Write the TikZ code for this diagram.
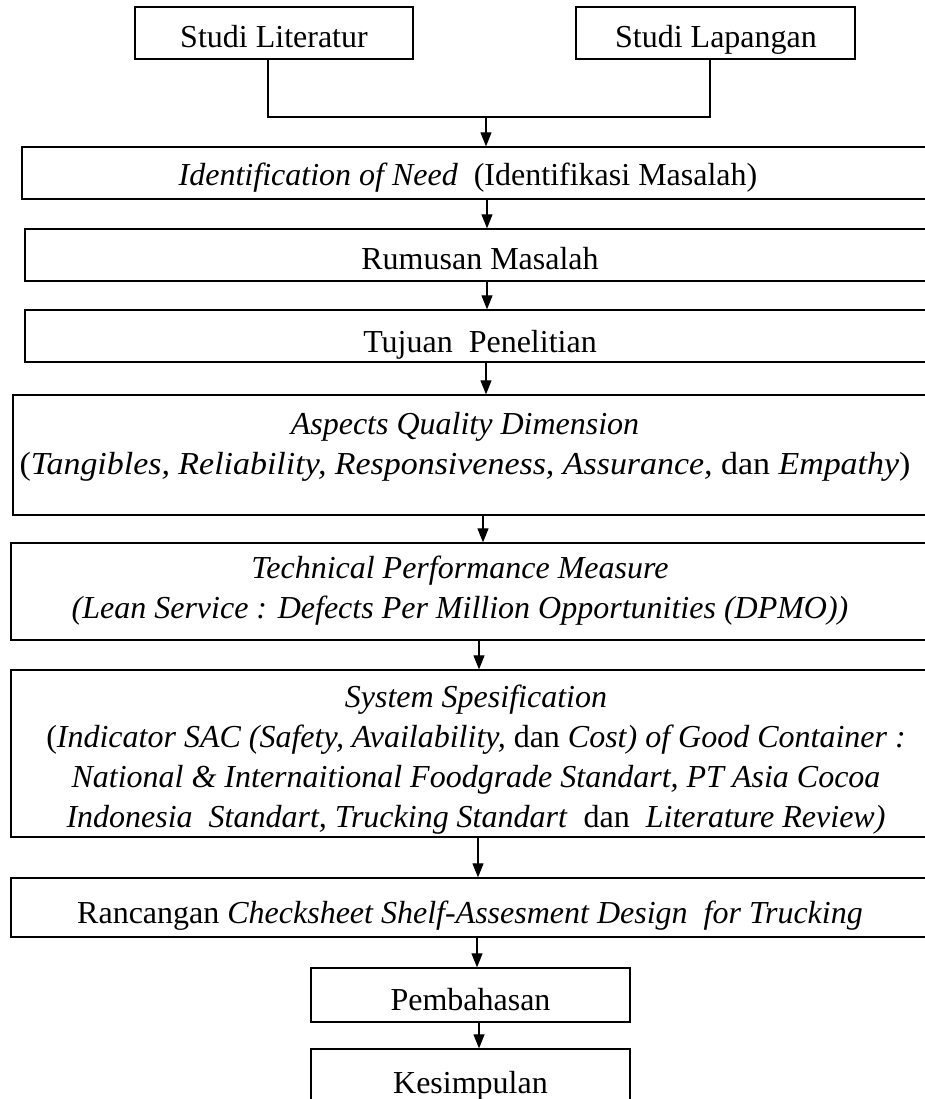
\documentclass[tikz,border=0pt]{standalone}
\usepackage{fontspec}
\setmainfont{Liberation Serif}
\usetikzlibrary{arrows.meta}
\newcommand\fbig{\fontsize{32}{40}\selectfont}
\tikzset{
  box/.style={draw, line width=1.3pt, rectangle, inner sep=0pt},
  txt/.style={align=center, font=\fbig, inner sep=0pt},
  one/.style={txt, text height=23pt, text depth=0pt},
  link/.style={line width=1.1pt},
  arr/.style={line width=1.1pt, -{Triangle[length=14pt,width=11pt]}}
}
\begin{document}
\begin{tikzpicture}[x=1pt,y=-1pt]
\useasboundingbox (0,0) rectangle (925,1099);
\clip (0,0) rectangle (925,1099);
% boxes
\node[box, minimum width=278pt, minimum height=52pt] (lit) at (274,33) {};
\node[box, minimum width=279pt, minimum height=52pt] (lap) at (715.5,33) {};
\node[box, minimum width=918pt, minimum height=52pt] (ident) at (481,173) {};
\node[box, minimum width=915pt, minimum height=52pt] (rum) at (482.5,255) {};
\node[box, minimum width=915pt, minimum height=52pt] (tuj) at (482.5,336) {};
\node[box, minimum width=927pt, minimum height=120pt] (asp) at (476.5,455) {};
\node[box, minimum width=929pt, minimum height=97pt] (tech) at (475.5,591.5) {};
\node[box, minimum width=929pt, minimum height=167pt] (sys) at (475.5,753.5) {};
\node[box, minimum width=929pt, minimum height=59pt] (ran) at (475.5,907.5) {};
\node[box, minimum width=319pt, minimum height=54pt] (pem) at (470.5,995) {};
\node[box, minimum width=319pt, minimum height=62pt] (kes) at (470.5,1080) {};
% texts
\node[one] (litT) at (274,36) {Studi Literatur};
\node[one] (lapT) at (716,36) {Studi Lapangan};
\node[one] (identT) at (468,174) {\textit{Identification of Need}\ \ (Identifikasi Masalah)};
\node[one] (rumT) at (480,258) {Rumusan Masalah};
\node[one] (tujT) at (480,341) {Tujuan\ \ Penelitian};
\node[txt] (aspT) at (465,447) {\textit{Aspects Quality Dimension}\\\scalebox{1.06}[1]{(\textit{Tangibles, Reliability, Responsiveness, Assurance,} dan \textit{Empathy})}};
\node[txt] (techT) at (460,591) {\textit{Technical Performance Measure}\\\textit{(Lean Service : Defects Per Million Opportunities (DPMO))}};
\node[txt] (sysT) at (476,760) {\textit{System Spesification}\\(\textit{Indicator SAC (Safety, Availability,} dan \textit{Cost) of Good Container :}\\\textit{National \& Internaitional Foodgrade Standart, PT Asia Cocoa}\\\textit{Indonesia\ \ Standart, Trucking Standart}\ \ dan\ \ \textit{Literature Review)}};
\node[one] (ranT) at (470,912) {Rancangan \textit{Checksheet Shelf-Assesment Design\ \ for Trucking}};
\node[one] (pemT) at (470.5,999) {Pembahasan};
\node[one] (kesT) at (470.5,1082) {Kesimpulan};
% connectors
\coordinate (j) at (486,117);
\draw[link] ([xshift=-6pt]lit.south) |- (j) -| ([xshift=-5.5pt]lap.south);
\draw[arr] (j) -- (ident.north -| j);
\coordinate (c2) at (487,0);
\draw[arr] (ident.south -| c2) -- (rum.north -| c2);
\draw[arr] (rum.south -| c2) -- (tuj.north -| c2);
\coordinate (c4) at (486,0);
\draw[arr] (tuj.south -| c4) -- (asp.north -| c4);
\coordinate (c5) at (483,0);
\draw[arr] (asp.south -| c5) -- (tech.north -| c5);
\coordinate (c6) at (479,0);
\draw[arr] (tech.south -| c6) -- (sys.north -| c6);
\coordinate (c7) at (478,0);
\draw[arr] (sys.south -| c7) -- (ran.north -| c7);
\coordinate (c8) at (477,0);
\draw[arr] (ran.south -| c8) -- (pem.north -| c8);
\coordinate (c9) at (479,0);
\draw[arr] (pem.south -| c9) -- (kes.north -| c9);
\end{tikzpicture}
\end{document}
